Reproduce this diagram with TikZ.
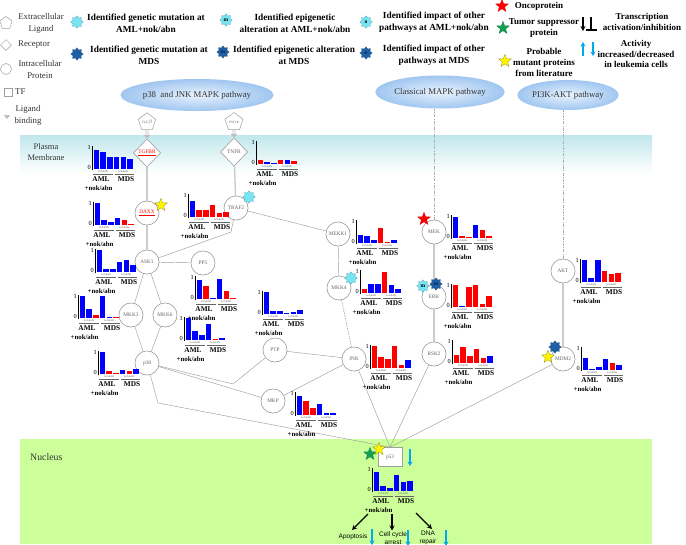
\documentclass[tikz,border=0pt]{standalone}
\usepackage{fontspec}
\setmainfont{Liberation Serif}
\setsansfont{Liberation Sans}
\usetikzlibrary{shapes.geometric,arrows.meta}
\definecolor{cyanstar}{RGB}{120,228,240}
\definecolor{darkstar}{RGB}{30,95,165}
\definecolor{arrowcyan}{RGB}{0,170,235}
\definecolor{nucleusgreen}{RGB}{204,255,153}
\definecolor{membrane}{RGB}{192,231,236}
\definecolor{pathblue}{RGB}{160,198,240}
\definecolor{pathlight}{RGB}{232,242,253}
\definecolor{barblue}{RGB}{0,0,255}
\definecolor{barred}{RGB}{255,0,0}
\definecolor{stargreen}{RGB}{20,160,80}
\definecolor{staryellow}{RGB}{255,245,0}
\definecolor{nodegray}{RGB}{100,100,100}
\newcommand\bchart[4]{%
 \begin{scope}[shift={(#2,#3)}]
 \foreach \c/\h [count=\i from 0] in {#4}{\fill[\c] ({1.6+\i*6.75},0) rectangle ++(5.4,{-22*\h});}
 \draw[black, line width=0.6pt] (0,0.6) -- (0,-23);
 \node[axlbl, anchor=east] (#1-1) at (-1,-21.5) {1};
 \node[axlbl, anchor=east] (#1-0) at (-1,-1.5) {0};
 \node[ticklbl] (#1-ta) at (11,2.6) {AcAEAB};
 \node[ticklbl] (#1-tb) at (31,2.6) {AcAEAB};
 \draw[gray!80!black, line width=0.35pt] (1,4.8) -- (21,4.8) (22.5,4.8) -- (42,4.8);
 \node[grplbl] (#1-aml) at (9,10.5) {AML};
 \node[grplbl] (#1-mds) at (34,10.5) {MDS};
 \node[noklbl, anchor=west] (#1-nok) at (-7.5,19) {+nok/abn};
 \end{scope}}
\begin{document}
\begin{tikzpicture}[x=1pt,y=-1pt,
 prot/.style={circle, draw=gray!75, line width=0.5pt, fill=white, minimum size=24pt, inner sep=0pt, font=\fontsize{5.3}{5.3}\selectfont, text=nodegray},
 recep/.style={diamond, draw=gray!75, line width=0.5pt, fill=white, minimum width=27pt, minimum height=28pt, inner sep=0pt, font=\fontsize{5.3}{5.3}\selectfont, text=nodegray},
 lig/.style={regular polygon, regular polygon sides=5, draw=gray!75, line width=0.5pt, fill=white, minimum size=16pt, inner sep=0pt, font=\fontsize{3.3}{3.3}\selectfont, text=nodegray},
 tfbox/.style={rectangle, draw=gray!75, line width=0.6pt, fill=white, minimum width=24pt, minimum height=19pt, inner sep=0pt, font=\fontsize{5.3}{5.3}\selectfont, text=nodegray},
 pathway/.style={ellipse, shade, inner color=pathlight, outer color=pathblue, inner sep=0pt, font=\fontsize{8.8}{8.8}\selectfont, text=black!80},
 link/.style={draw=gray!75, line width=0.45pt},
 thicklink/.style={draw=gray!40, line width=1.4pt},
 dotlink/.style={draw=gray!70, line width=0.6pt, dash pattern=on 1.6pt off 1pt},
 dashlink/.style={draw=gray!65, line width=0.8pt, dash pattern=on 3pt off 1.3pt on 0.8pt off 1.3pt},
 ligbind/.style={draw=gray!50, line width=2.6pt, -{Triangle[length=4pt,width=6.5pt]}},
 ligbindin/.style={draw=white, line width=1.1pt, shorten >=4pt},
 legtxt/.style={font=\bfseries\fontsize{9.3}{12}\selectfont, align=center, inner sep=0pt},
 legtxtb/.style={font=\bfseries\fontsize{9}{10.7}\selectfont, align=center, inner sep=0pt},
 lefttxt/.style={font=\fontsize{8.8}{12}\selectfont, align=center, inner sep=0pt, text=black!80},
 axlbl/.style={font=\fontsize{6.3}{6.3}\selectfont, inner sep=0pt},
 ticklbl/.style={font=\fontsize{2.6}{3}\selectfont, inner sep=0pt, text=gray!70!black},
 grplbl/.style={font=\bfseries\fontsize{7.3}{7.3}\selectfont, inner sep=0pt},
 noklbl/.style={font=\bfseries\fontsize{6.8}{7}\selectfont, inner sep=0pt},
 cstar/.style={star, star points=8, star point ratio=1.45, fill=cyanstar, draw=cyan!50!teal, line width=0.2pt, minimum size=12.5pt, inner sep=0pt, font=\bfseries\fontsize{5.5}{5.5}\selectfont},
 dstar/.style={cstar, fill=darkstar, draw=darkstar!70!black},
 pstar/.style={star, star points=5, star point ratio=2.4, minimum size=13.5pt, inner sep=0pt, line width=0.25pt},
 redstar/.style={pstar, fill=red, draw=red!80!black},
 greenstar/.style={pstar, fill=stargreen, draw=stargreen!80!black},
 yellowstar/.style={pstar, fill=staryellow, draw=olive},
 blackarrow/.style={draw=black, line width=1.4pt, -{Stealth[length=5pt,width=5pt]}},
 cyanarrow/.style={draw=arrowcyan, line width=1.1pt, -{Stealth[length=4.5pt,width=5pt]}},
 bottxt/.style={font=\sffamily\fontsize{6.5}{8}\selectfont, inner sep=0pt, align=center}
]
\clip (0,0) rectangle (686,544);
\fill[white] (0,0) rectangle (686,544);
% compartments
\shade[top color=membrane, bottom color=white] (20,135) rectangle (652,173);
\fill[nucleusgreen] (20,439) rectangle (652,544);
\node[lefttxt, font=\fontsize{8.5}{11}\selectfont] (pm) at (46,152.5) {Plasma\\Membrane};
\node[lefttxt, font=\fontsize{9.8}{10}\selectfont, anchor=west] (nuc) at (30,457) {Nucleus};

% legend left
\node[lig, minimum size=13pt] (lg-lig) at (6,23) {};
\node[recep, minimum width=11pt, minimum height=11pt] (lg-rec) at (6,45) {};
\node[prot, minimum size=11pt] (lg-prot) at (6,69) {};
\node[tfbox, minimum width=8pt, minimum height=8pt] (lg-tf) at (8,92) {};
\coordinate (lg-a1) at (7,104);
\coordinate (lg-a2) at (7,119);
\draw[ligbind] (lg-a1) -- (lg-a2);
\draw[ligbindin] (lg-a1) -- (lg-a2);
\node[lefttxt] (lt-lig) at (41,23) {Extracellular\\Ligand};
\node[lefttxt, anchor=west] (lt-rec) at (18,45) {Receptor};
\node[lefttxt] (lt-prot) at (40,69) {Intracellular\\Protein};
\node[lefttxt, anchor=west] (lt-tf) at (15,92) {TF};
\node[lefttxt] (lt-bind) at (28,115) {Ligand\\binding};

% legend stars and texts
\node[cstar] (ls1) at (77,22) {};
\node[legtxt] (lt1) at (146,23) {Identified genetic mutation at\\AML+nok/abn};
\node[dstar] (ls2) at (77,54) {};
\node[legtxt] (lt2) at (149,55.5) {Identified genetic mutation at\\MDS};
\node[cstar] (ls3) at (226,20) {m};
\node[legtxt] (lt3) at (295,23) {Identified epigenetic\\alteration at AML+nok/abn};
\node[dstar, text=darkstar!40!black] (ls4) at (223,52) {m};
\node[legtxt] (lt4) at (294,55.5) {Identified epigenetic alteration\\at MDS};
\node[cstar] (ls5) at (366,22) {o};
\node[legtxt] (lt5) at (434,22.5) {Identified impact of other\\pathways at AML+nok/abn};
\node[dstar, text=darkstar!40!black] (ls6) at (366,53) {o};
\node[legtxt] (lt6) at (434,55) {Identified impact of other\\pathways at MDS};
\node[redstar] (ls7) at (502,6) {};
\node[legtxtb] (lt7) at (539,6) {Oncoprotein};
\node[greenstar] (ls8) at (503,28) {};
\node[legtxtb] (lt8) at (544,28) {Tumor suppressor\\protein};
\node[yellowstar] (ls9) at (505,61) {};
\node[legtxtb] (lt9) at (544,62.5) {Probable\\mutant proteins\\from literature};
\coordinate (lb1s) at (583,17);
\coordinate (lb1e) at (583,31);
\draw[blackarrow] (lb1s) -- (lb1e);
\coordinate (lb2s) at (591,17);
\coordinate (lb2e) at (591,30);
\coordinate (lb2l) at (586,30);
\coordinate (lb2r) at (597,30);
\draw[black, line width=1.4pt] (lb2s) -- (lb2e) (lb2l) -- (lb2r);
\node[legtxtb] (lt10) at (642,22) {Transcription\\activation/inhibition};
\coordinate (lc1s) at (583,56);
\coordinate (lc1e) at (583,42);
\draw[cyanarrow] (lc1s) -- (lc1e);
\coordinate (lc2s) at (593,42);
\coordinate (lc2e) at (593,56);
\draw[cyanarrow] (lc2s) -- (lc2e);
\node[legtxtb] (lt11) at (636,54) {Activity\\increased/decreased\\in leukemia cells};

% pathway ellipses
\node[pathway, minimum width=130pt, minimum height=32pt] (pjnk) at (197,95) {p38~ and JNK MAPK pathway};
\node[pathway, minimum width=115pt, minimum height=33pt] (pcl) at (440,92) {Classical MAPK pathway};
\node[pathway, minimum width=84pt, minimum height=30pt] (ppi) at (568,95) {PI3K-AKT pathway};

% nodes
\node[lig] (tgfb) at (147,122) {TGF$\beta$};
\node[lig] (tnfa) at (234,122) {TNF$\alpha$};
\node[recep, text=red] (tgfbr) at (147,153) {\underline{TGFBR}};
\node[recep] (tnfr) at (234,152) {TNFR};
\node[prot, text=red] (daxx) at (147,213) {\underline{DAXX}};
\node[prot] (traf2) at (236,208) {TRAF2};
\node[prot] (ask1) at (147,262) {ASK1};
\node[prot] (pp5) at (203,263) {PP5};
\node[prot] (mkk3) at (131,315) {MKK3};
\node[prot] (mkk6) at (165,315) {MKK6};
\node[prot] (p38) at (147,363) {p38};
\node[prot] (ptp) at (275,350) {PTP};
\node[prot] (mkp) at (273,401) {MKP};
\node[prot] (mekk1) at (338,234) {MEKK1};
\node[prot] (mkk4) at (339,288) {MKK4};
\node[prot] (jnk) at (354,359) {JNK};
\node[prot] (mek) at (434,232) {MEK};
\node[prot] (erk) at (434,297) {ERK};
\node[prot] (rsk2) at (434,354) {RSK2};
\node[prot] (akt) at (563,271) {AKT};
\node[prot] (mdm2) at (563,359) {MDM2};
\node[tfbox] (p53) at (390,457) {p53};

% bend points
\coordinate (btraf) at (231,232);
\coordinate (bptp) at (233,384);
\coordinate (bp53) at (158,403);

% edges
\draw[ligbind] (tgfb) -- (tgfbr);
\draw[ligbindin] (tgfb) -- (tgfbr);
\draw[ligbind] (tnfa) -- (tnfr);
\draw[ligbindin] (tnfa) -- (tnfr);
\draw[thicklink] (tgfbr) -- (daxx);
\draw[thicklink] (daxx) -- (ask1);
\draw[thicklink] (tnfr) -- (traf2);
\draw[link] (traf2) -- (btraf) -- (ask1);
\draw[link] (traf2) -- (mekk1);
\draw[link] (ask1) -- (pp5);
\draw[link] (ask1) -- (mkk3);
\draw[link] (ask1) -- (mkk6);
\draw[link] (mkk3) -- (p38);
\draw[link] (mkk6) -- (p38);
\draw[link] (p38) -- (bptp) -- (ptp);
\draw[link] (p38) -- (mkp);
\draw[link] (p38) -- (bp53) -- (p53.north);
\draw[link] (ptp) -- (jnk);
\draw[link] (mkp) -- (jnk);
\draw[link] (mekk1) -- (mkk4);
\draw[dotlink] (mkk4) -- (jnk);
\draw[link] (jnk) -- (p53.north);
\draw[thicklink] (mek) -- (erk);
\draw[thicklink] (erk) -- (rsk2);
\draw[link] (rsk2) -- (p53.north);
\draw[thicklink] (akt) -- (mdm2);
\draw[link] (mdm2) -- (p53.north);
\draw[dashlink] (mek.north) -- (mek.north |- pcl.south);
\draw[dashlink] (akt.north) -- (akt.north |- ppi.south);

% redraw nodes on top of edges
\node[prot, text=red] at (daxx) {\underline{DAXX}};
\foreach \n/\t in {traf2/TRAF2,ask1/ASK1,pp5/PP5,mkk3/MKK3,mkk6/MKK6,p38/p38,ptp/PTP,mkp/MKP,mekk1/MEKK1,mkk4/MKK4,jnk/JNK,mek/MEK,erk/ERK,rsk2/RSK2,akt/AKT,mdm2/MDM2}{\node[prot] at (\n) {\t};}
\node[recep, text=red] at (tgfbr) {\underline{TGFBR}};
\node[recep] at (tnfr) {TNFR};
\node[tfbox] at (p53) {p53};

% stars on nodes
\node[yellowstar] (s-daxx) at (161,205) {};
\node[cstar] (s-traf2) at (249,197) {};
\node[cstar] (s-mkk4) at (351,278) {};
\node[redstar] (s-mek) at (424,219) {};
\node[cstar] (s-erk1) at (423,286) {m};
\node[dstar, text=darkstar!40!black] (s-erk2) at (436,284) {m};
\node[dstar] (s-mdm2a) at (555,347) {};
\node[yellowstar] (s-mdm2b) at (548,357) {};
\node[greenstar] (s-p53a) at (370,454) {};
\node[yellowstar] (s-p53b) at (379,449) {};
\coordinate (p53ds) at (410,449);
\coordinate (p53de) at (410,466);
\draw[cyanarrow] (p53ds) -- (p53de);

% charts
\bchart{cigfbr}{92}{169}{barblue/.88,barblue/.78,barblue/.53,barblue/.56,barblue/.53,barblue/.44}
\bchart{ctnfr}{256}{164}{barred/.2,barblue/.08,barblue/.06,barred/.2,barblue/.17,barred/.12}
\bchart{cdaxx}{93}{225}{barblue/1,barblue/.25,barblue/.15,barblue/.3,barred/.22,barred/.06}
\bchart{ctraf2}{188}{217}{barblue/.75,barred/.3,barred/.3,barred/.55,barred/.2,barred/.25}
\bchart{cask1}{95}{272}{barblue/1,barblue/.15,barblue/.15,barblue/.45,barblue/.55,barblue/.3}
\bchart{cpp5}{195}{299}{barblue/.85,barred/.6,barblue/.03,barblue/.9,barred/.35,barred/.05}
\bchart{cmkk3}{78}{318}{barblue/1,barblue/.4,barred/.12,barblue/1,barblue/.05,barred/.03}
\bchart{cmkk6}{184}{340}{barblue/1,barblue/.4,barblue/.25,barblue/.75,barred/.05,barblue/.1}
\bchart{cptp}{262}{314}{barblue/1,barblue/.15,barblue/.12,barblue/.05,barblue/.08,barblue/.18}
\bchart{cp38}{98}{374}{barblue/1,barred/.12,barred/.05,barblue/.2,barred/.15,barblue/.25}
\bchart{cmkp}{295}{415}{barblue/.85,barred/.65,barred/.3,barblue/.5,barblue/.1,barblue/.1}
\bchart{cmekk1}{356}{243}{barblue/.35,barblue/.3,barblue/.12,barred/.7,barred/.05,barblue/.12}
\bchart{cmkk4}{360}{293}{barred/.2,barblue/.4,barblue/.4,barred/.95,barblue/.35,barblue/.2}
\bchart{cjnk}{370}{368}{barred/1,barred/.5,barred/.4,barred/1,barred/.15,barblue/.35}
\bchart{cmek}{451}{238}{barblue/.95,barred/.1,barred/.05,barblue/.6,barred/.35,barred/.1}
\bchart{cerk}{451}{307}{barred/1,barblue/.03,barred/.9,barred/1,barred/.15,barred/.5}
\bchart{crsk2}{452}{363}{barred/.35,barred/.75,barred/.3,barred/.65,barred/.25,barblue/.3}
\bchart{cakt}{580}{282}{barblue/1,barblue/.2,barblue/1,barred/.5,barred/.35,barred/.4}
\bchart{cmdm2}{581}{370}{barblue/.55,barblue/.05,barblue/.15,barblue/.5,barred/.3,barblue/.25}
\bchart{cp53}{372}{491}{barblue/.85,barblue/.25,barblue/.15,barblue/.75,barblue/.4,barblue/.45}

% outcomes
\node[bottxt] (apo) at (353,537) {Apoptosis};
\node[bottxt, anchor=north] (cca) at (393,532) {Cell cycle\\arrest};
\node[bottxt, anchor=north] (dna) at (428,530.5) {DNA\\repair};
\coordinate (o1s) at (368,514);
\coordinate (o1e) at (352,530);
\coordinate (o2s) at (392,514);
\coordinate (o2e) at (392,530.5);
\coordinate (o3s) at (416,513);
\coordinate (o3e) at (432,529);
\draw[blackarrow] (o1s) -- (o1e);
\draw[blackarrow] (o2s) -- (o2e);
\draw[blackarrow] (o3s) -- (o3e);
\coordinate (c1s) at (372,529);
\coordinate (c1e) at (372,545);
\coordinate (c2s) at (408,530);
\coordinate (c2e) at (408,546);
\coordinate (c3s) at (446,530);
\coordinate (c3e) at (446,546);
\draw[cyanarrow] (c1s) -- (c1e);
\draw[cyanarrow] (c2s) -- (c2e);
\draw[cyanarrow] (c3s) -- (c3e);
\end{tikzpicture}
\end{document}
